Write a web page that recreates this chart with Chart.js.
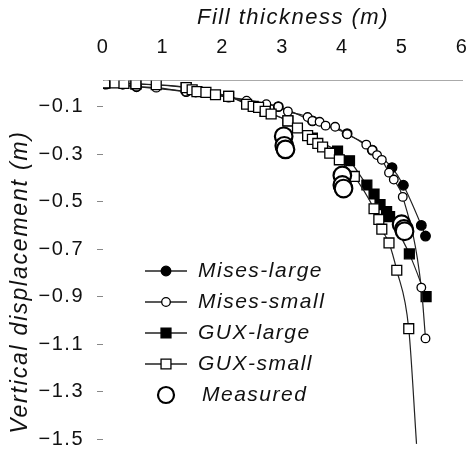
<!DOCTYPE html>
<html>
<head>
<meta charset="utf-8">
<script src="https://cdn.jsdelivr.net/npm/chart.js@4.4.1/dist/chart.umd.min.js"></script>
<style>
  html, body { margin: 0; padding: 0; background: #fff; }
  #wrap { width: 473px; height: 462px; }
</style>
</head>
<body>
<div id="wrap"><canvas id="dispChart"></canvas></div>
<script>
// axis ticks
const xTicks = [0, 1, 2, 3, 4, 5, 6];
const yTicks = [-0.1, -0.3, -0.5, -0.7, -0.9, -1.1, -1.3, -1.5];
const xTitle = "Fill thickness (m)";
const yTitle = "Vertical displacement (m)";

// [fill thickness (m), vertical displacement (m)]
const misesLarge = [
  [0.05, -0.005], [0.56, -0.016], [1.39, -0.037], [2.1, -0.06], [2.93, -0.1],
  [3.5, -0.16], [4.08, -0.214], [4.5, -0.283], [4.83, -0.357], [5.02, -0.431],
  [5.32, -0.6], [5.39, -0.645],
];
const misesSmall = [
  [0.05, -0.005], [0.33, -0.008], [0.56, -0.016], [0.89, -0.02], [1.39, -0.037],
  [1.55, -0.041], [2.1, -0.06], [2.4, -0.075], [2.73, -0.09], [2.93, -0.1],
  [3.09, -0.12], [3.42, -0.144], [3.5, -0.16], [3.62, -0.164], [3.72, -0.18],
  [3.88, -0.185], [4.08, -0.216], [4.4, -0.26], [4.5, -0.283], [4.58, -0.304],
  [4.66, -0.324], [4.78, -0.378], [4.86, -0.407], [5.01, -0.48], [5.32, -0.862],
  [5.39, -1.076],
];
const guxLarge = [
  [0.03, 0], [0.55, -0.004], [1.39, -0.02], [2.1, -0.057], [2.71, -0.12],
  [3.09, -0.16], [3.5, -0.232], [3.92, -0.287], [4.12, -0.328], [4.41, -0.43],
  [4.53, -0.468], [4.63, -0.513], [4.74, -0.542], [4.79, -0.563], [5.12, -0.72],
  [5.4, -0.9],
];
const guxSmall = [
  [0.03, 0], [0.2, 0], [0.35, -0.002], [0.55, -0.004], [0.89, -0.008],
  [1.39, -0.02], [1.49, -0.029], [1.57, -0.037], [1.72, -0.04], [1.88, -0.05],
  [2.1, -0.057], [2.4, -0.09], [2.51, -0.099], [2.6, -0.103], [2.71, -0.12],
  [2.81, -0.131], [3.09, -0.16], [3.25, -0.19], [3.42, -0.222], [3.5, -0.238],
  [3.59, -0.255], [3.67, -0.27], [3.79, -0.296], [3.95, -0.324], [4.2, -0.394],
  [4.53, -0.53], [4.61, -0.575], [4.66, -0.616], [4.78, -0.674], [4.91, -0.789],
  [5.11, -1.035],
];
// curve continues past the last computed point without a marker
const guxSmallEnd = [5.24, -1.52];
const measured = [
  [3.02, -0.225], [3.03, -0.265], [3.05, -0.28],
  [4.0, -0.39], [4.0, -0.43], [4.02, -0.445],
  [4.99, -0.595], [5.03, -0.615], [5.04, -0.625],
];

const FONT = "'Liberation Sans', Arial, sans-serif";
Chart.defaults.font.family = FONT;
Chart.defaults.color = "#111";

const toXY = (arr) => arr.map(([x, y]) => ({ x, y }));

const lineStyle = {
  borderColor: "#222",
  borderWidth: 1.2,
  pointBorderColor: "#000",
  pointBorderWidth: 1.3,
  cubicInterpolationMode: "monotone",
  showLine: true,
};

const guxSmallData = toXY([...guxSmall, guxSmallEnd]);

const datasets = [
  {
    ...lineStyle,
    label: "Mises-large",
    data: toXY(misesLarge),
    pointStyle: "circle",
    pointRadius: 4.8,
    pointBackgroundColor: "#000",
    order: 4,
  },
  {
    ...lineStyle,
    label: "Mises-small",
    data: toXY(misesSmall),
    pointStyle: "circle",
    pointRadius: 4.3,
    pointBackgroundColor: "#fff",
    order: 2,
  },
  {
    ...lineStyle,
    label: "GUX-large",
    data: toXY(guxLarge),
    pointStyle: "rect",
    pointRadius: 7,
    pointBackgroundColor: "#000",
    order: 3,
  },
  {
    ...lineStyle,
    label: "GUX-small",
    data: guxSmallData,
    pointStyle: "rect",
    pointRadius: guxSmallData.map((p, i) => (i === guxSmallData.length - 1 ? 0 : 7)),
    pointBackgroundColor: "#fff",
    order: 1,
  },
  {
    label: "Measured",
    data: toXY(measured),
    showLine: false,
    pointStyle: "circle",
    pointRadius: 8.8,
    pointBorderWidth: 2.2,
    pointBorderColor: "#000",
    pointBackgroundColor: "#fff",
    order: 0,
  },
];

// wider tracking for all chart text
const textSpacing = {
  id: "textSpacing",
  beforeDraw(chart) {
    chart.ctx.letterSpacing = "1.5px";
  },
};

// axis titles, placed by hand
const axisTitles = {
  id: "axisTitles",
  afterDraw(chart) {
    const ctx = chart.ctx;
    ctx.save();
    ctx.fillStyle = "#111";
    ctx.textAlign = "center";
    ctx.textBaseline = "middle";
    ctx.font = "italic 22px " + FONT;
    ctx.letterSpacing = "1.5px";
    ctx.fillText(xTitle, 293, 18);
    ctx.translate(21, 282);
    ctx.rotate(-Math.PI / 2);
    ctx.font = "italic 23px " + FONT;
    ctx.letterSpacing = "1.8px";
    ctx.fillText(yTitle, 0, 0);
    ctx.restore();
  },
};

// legend drawn inside the plot, lower left
const innerLegend = {
  id: "innerLegend",
  afterDatasetsDraw(chart) {
    const ctx = chart.ctx;
    const rowY = 271;
    const rowGap = 31;
    const lineX0 = 145;
    const lineX1 = 187;
    const markX = 166;
    const textX = 198;
    ctx.save();
    ctx.font = "italic 21px " + FONT;
    ctx.letterSpacing = "1.5px";
    ctx.textBaseline = "middle";
    chart.data.datasets.forEach((ds, i) => {
      const y = rowY + i * rowGap;
      if (ds.showLine) {
        ctx.strokeStyle = ds.borderColor;
        ctx.lineWidth = 1.4;
        ctx.beginPath();
        ctx.moveTo(lineX0, y);
        ctx.lineTo(lineX1, y);
        ctx.stroke();
      }
      const r = Array.isArray(ds.pointRadius) ? ds.pointRadius[0] : ds.pointRadius;
      ctx.fillStyle = ds.pointBackgroundColor;
      ctx.strokeStyle = ds.pointBorderColor;
      ctx.lineWidth = ds.pointBorderWidth;
      Chart.helpers.drawPoint(
        ctx,
        { pointStyle: ds.pointStyle, radius: ds.label === "Measured" ? 8 : r, borderWidth: ds.pointBorderWidth, rotation: 0 },
        markX,
        y
      );
      ctx.fillStyle = "#111";
      ctx.fillText(ds.label, ds.label === "Measured" ? textX + 4 : textX, y);
    });
    ctx.restore();
  },
};

// fixed axis boxes, no extra label padding around the plot
const fixBox = (size) => (scale) => {
  if (scale.isHorizontal()) scale.height = size;
  else scale.width = size;
  scale.paddingLeft = 0;
  scale.paddingRight = 0;
  scale.paddingTop = 0;
  scale.paddingBottom = 0;
};

new Chart(document.getElementById("dispChart"), {
  type: "scatter",
  data: { datasets },
  options: {
    responsive: true,
    maintainAspectRatio: false,
    animation: false,
    layout: { padding: { left: 0, top: 0, right: 8, bottom: 2 } },
    plugins: {
      legend: { display: false },
      tooltip: { enabled: false },
    },
    scales: {
      x: {
        type: "linear",
        position: "top",
        min: 0,
        max: 6,
        afterFit: fixBox(80.5),
        afterBuildTicks: (scale) => {
          scale.ticks = xTicks.map((v) => ({ value: v }));
        },
        ticks: {
          padding: 21,
          font: { size: 20 },
          maxRotation: 0,
          callback: (v) => String(v),
        },
        grid: { display: false, drawTicks: false },
        border: { display: true, color: "#aaa", width: 1 },
      },
      y: {
        type: "linear",
        min: -1.55,
        max: 0.01,
        afterFit: fixBox(103),
        afterBuildTicks: (scale) => {
          scale.ticks = yTicks.map((v) => ({ value: v }));
        },
        ticks: {
          padding: 13,
          font: { size: 20 },
          callback: (v) => "\u2212" + Math.abs(v).toFixed(1),
        },
        grid: {
          display: true,
          drawOnChartArea: false,
          drawTicks: true,
          tickLength: 6,
          color: "#888",
        },
        border: { display: false },
      },
    },
  },
  plugins: [textSpacing, axisTitles, innerLegend],
});
</script>
</body>
</html>
